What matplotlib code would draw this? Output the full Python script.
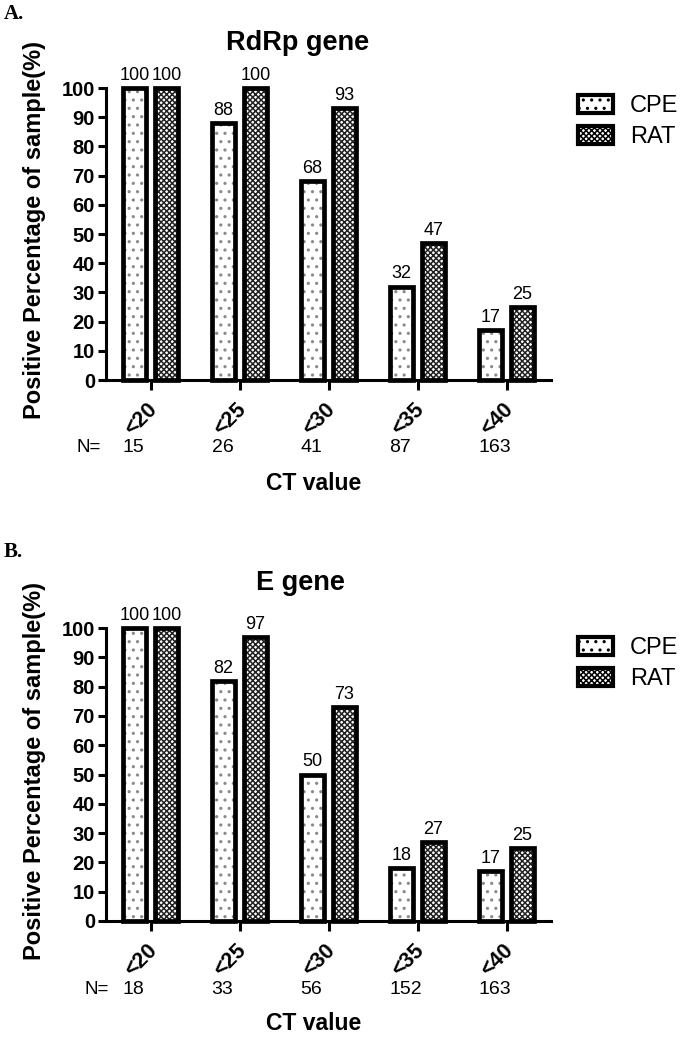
import matplotlib
matplotlib.use("Agg")
import matplotlib.pyplot as plt
import matplotlib.transforms as mtransforms
from matplotlib.patches import Patch
import numpy as np

plt.rcParams['font.family'] = ['Liberation Sans', 'DejaVu Sans']
plt.rcParams['hatch.linewidth'] = 1.1

categories = ["<20", "<25", "<30", "<35", "<40"]
series_names = ["CPE", "RAT"]

rdrp_cpe = [100, 88, 68, 32, 17]
rdrp_rat = [100, 100, 93, 47, 25]
rdrp_n = [15, 26, 41, 87, 163]

e_cpe = [100, 82, 50, 18, 17]
e_rat = [100, 97, 73, 27, 25]
e_n = [18, 33, 56, 152, 163]

W, H = 683, 1038
fig = plt.figure(figsize=(W / 100, H / 100), dpi=100)


def fx(x):
    return x / W


def fy(y):
    return 1 - y / H


CPE_HATCH = '..'
RAT_HATCH = 'xxxxxx'


def draw_panel(left, top, bottom, cpe, rat, nvals, title, title_xy, panel_lab, lab_xy,
               nlab_x, leg_y):
    ax = fig.add_axes([fx(left), fy(bottom), 445 / W, (bottom - top) / H])
    x = np.arange(len(categories))
    off, bw = 0.18, 0.26
    # hatch layers
    ax.bar(x - off, cpe, bw, color='white', edgecolor='#8a8a8a', hatch=CPE_HATCH,
           linewidth=0, clip_on=False, zorder=2)
    ax.bar(x + off, rat, bw, color='white', edgecolor='#222222', hatch=RAT_HATCH,
           linewidth=0, clip_on=False, zorder=2)
    # outlines
    ax.bar(x - off, cpe, bw, fill=False, edgecolor='black', linewidth=3.4,
           clip_on=False, zorder=3)
    ax.bar(x + off, rat, bw, fill=False, edgecolor='black', linewidth=3.4,
           clip_on=False, zorder=3)
    for xi, v in zip(x - off, cpe):
        ax.annotate(f"{v}", (xi, v), xytext=(0, 3), textcoords='offset points',
                    ha='center', va='bottom', fontsize=13, annotation_clip=False)
    for xi, v in zip(x + off, rat):
        ax.annotate(f"{v}", (xi, v), xytext=(0, 3), textcoords='offset points',
                    ha='center', va='bottom', fontsize=13, annotation_clip=False)

    ax.set_xlim(-0.5, 4.5)
    ax.set_ylim(0, 100)
    ax.set_yticks(range(0, 101, 10))
    ax.set_yticklabels([str(t) for t in range(0, 101, 10)], fontsize=14.5,
                       fontweight='bold')
    ax.set_xticks(x)
    ax.set_xticklabels([''] * len(x))
    for s in ['top', 'right']:
        ax.spines[s].set_visible(False)
    for s in ['left', 'bottom']:
        ax.spines[s].set_linewidth(2.2)
    ax.tick_params(axis='y', length=6, width=2.2, pad=2)
    ax.tick_params(axis='x', length=7, width=2.2)
    ax.patch.set_alpha(0)

    # rotated category labels
    tr = mtransforms.blended_transform_factory(ax.transData, fig.transFigure)
    for xi, c in zip(x, categories):
        t = mtransforms.offset_copy(tr, fig=fig, x=-9, y=0, units='dots')
        ax.text(xi, fy(bottom + 39), c, transform=t, rotation=45,
                rotation_mode='anchor', ha='center', va='center',
                fontsize=15.5, fontweight='bold')
        t2 = mtransforms.offset_copy(tr, fig=fig, x=-28, y=0, units='dots')
        ax.text(xi, fy(bottom + 68), str(nvals[xi]), transform=t2,
                ha='left', va='center', fontsize=14)
    fig.text(fx(nlab_x), fy(bottom + 68), "N=", ha='left', va='center', fontsize=13.5)
    fig.text(fx(314), fy(bottom + 103), "CT value", ha='center', va='center',
             fontsize=16.5, fontweight='bold')
    fig.text(fx(title_xy[0]), fy(title_xy[1]), title, ha='center', va='baseline',
             fontsize=19.5, fontweight='bold')
    fig.text(fx(lab_xy[0]), fy(lab_xy[1]), panel_lab, ha='left', va='baseline',
             fontsize=15, fontweight='bold', family='Liberation Serif')
    fig.text(fx(35), fy((top + bottom) / 2 - 4), "Positive Percentage of sample(%)",
             rotation=90, ha='center', va='center', fontsize=17, fontweight='bold')

    handles = [Patch(facecolor='white', edgecolor='black', hatch=CPE_HATCH, linewidth=3),
               Patch(facecolor='white', edgecolor='black', hatch=RAT_HATCH, linewidth=3)]
    fig.legend(handles, series_names, loc='center left',
               bbox_to_anchor=(fx(578), fy(leg_y)), frameon=False, fontsize=17,
               handlelength=1.5, handleheight=0.8, labelspacing=0.4,
               handletextpad=0.7, borderpad=0, borderaxespad=0)
    return ax


draw_panel(106, 88, 380, rdrp_cpe, rdrp_rat, rdrp_n, "RdRp gene", (298, 50), "A.",
           (4, 19), 76, 121.5)
draw_panel(106, 628, 921, e_cpe, e_rat, e_n, "E gene", (300, 590), "B.",
           (4, 557), 85, 663.5)

fig.savefig("out.png", dpi=100)
